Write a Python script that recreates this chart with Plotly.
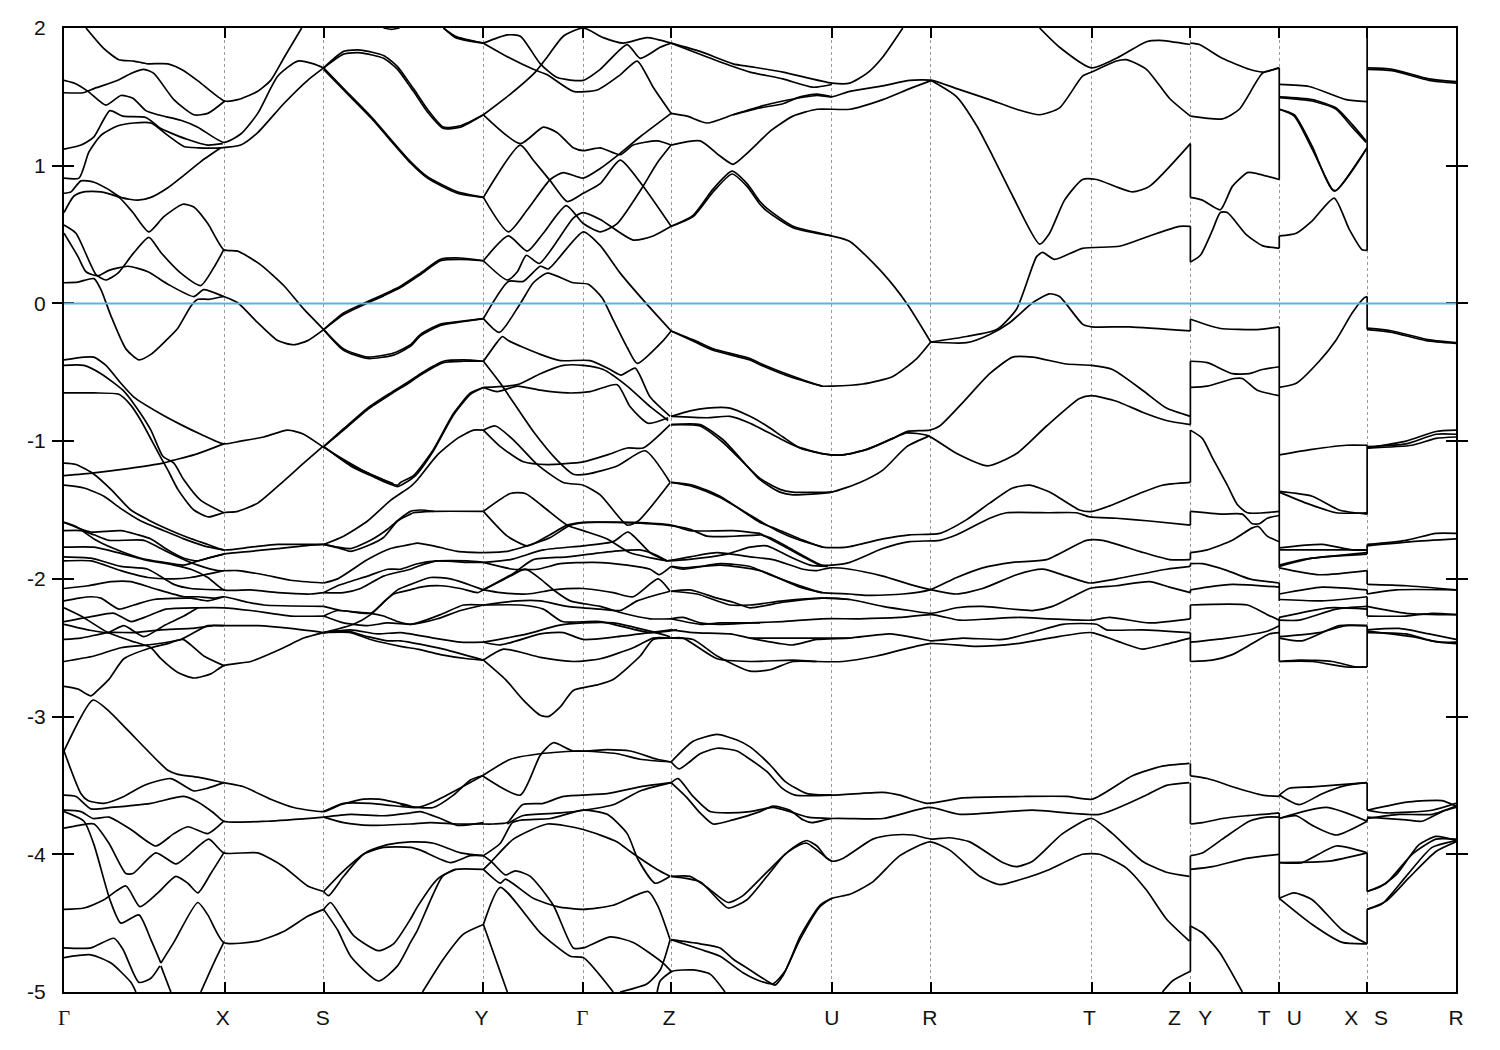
import plotly.graph_objects as go

# High-symmetry positions along the k path and energy ticks
sym_k = [0, 161, 260, 420, 520, 608, 769, 868, 1029, 1128, 1217, 1305, 1394]
label_k = [0, 159, 259, 418, 519, 606, 769, 867, 1027, 1112, 1143, 1202, 1232, 1289, 1319, 1394]
label_text = ["Γ", "X", "S", "Y", "Γ", "Z", "U", "R", "T", "Z", "Y", "T", "U", "X", "S", "R"]
energy_ticks = [2, 1, 0, -1, -2, -3, -4, -5]

# Each band: k, E, k, E, ...
bands_g_x_s = [
 [22,2.0,40,1.85,55,1.77,70,1.76,84,1.74,104,1.74,120,1.69,137,1.60,161,1.47,174,1.48,194,1.54,207,1.62,220,1.78,238,2.0],
 [0,1.62,10,1.60,24,1.54,42,1.44,57,1.51,69,1.49,82,1.40,94,1.37,117,1.33,134,1.28,160,1.17,177,1.23,194,1.38,214,1.65,234,1.76,250,1.74,260,1.71],
 [0,1.53,19,1.53,30,1.56,54,1.62,67,1.67,80,1.70,90,1.67,110,1.48,130,1.37,144,1.38,161,1.47],
 [0,1.12,17,1.15,30,1.21,46,1.40,59,1.36,82,1.35,97,1.27,124,1.19,144,1.15,159,1.16],
 [0,0.91,15,0.91,25,1.10,37,1.22,54,1.29,70,1.31,87,1.31,104,1.22,120,1.14,134,1.13,157,1.13,177,1.15,194,1.24,220,1.45,244,1.62,260,1.71],
 [0,0.80,7,0.81,17,0.89,30,0.88,44,0.83,57,0.77,74,0.75,87,0.77,104,0.84,120,0.93,137,1.03,157,1.13],
 [0,0.66,10,0.78,20,0.81,37,0.81,55,0.77,69,0.66,85,0.52,100,0.63,119,0.72,130,0.70,144,0.58,160,0.39,174,0.38,197,0.28,220,0.13,240,-0.04,260,-0.19],
 [0,0.57,12,0.51,32,0.21,42,0.17,54,0.22,69,0.36,85,0.48,97,0.37,117,0.22,137,0.13,150,0.26,160,0.39],
 [0,0.51,14,0.34,22,0.23,34,0.20,45,0.24,64,0.27,84,0.23,104,0.14,130,0.05,140,0.10,160,0.05,174,0.005,194,-0.14,214,-0.27,230,-0.30,244,-0.27,260,-0.19],
 [0,0.15,14,0.155,30,0.18,37,0.10,47,-0.09,62,-0.33,75,-0.41,87,-0.37,102,-0.27,114,-0.18,127,-0.02,134,0.03,145,0.03,160,0.05],
 [0,-0.41,20,-0.39,30,-0.39,42,-0.45,57,-0.58,70,-0.68,94,-0.79,117,-0.88,137,-0.95,160,-1.02,177,-1.0,200,-0.97,224,-0.92,240,-0.95,259,-1.04,277,-1.12,304,-1.23,330,-1.31],
 [0,-0.45,20,-0.45,37,-0.51,59,-0.63,72,-0.75,87,-0.92,99,-1.11,110,-1.16,120,-1.28,137,-1.43,160,-1.52],
 [0,-0.65,30,-0.65,55,-0.66,67,-0.74,77,-0.85,97,-1.12,104,-1.21,114,-1.35,130,-1.50,145,-1.55,160,-1.52,174,-1.51,194,-1.45,220,-1.29,240,-1.16,259,-1.04],
 [0,-1.25,30,-1.23,64,-1.20,99,-1.16,109,-1.14,130,-1.10,160,-1.02],
 [0,-1.16,12,-1.17,30,-1.24,47,-1.35,67,-1.50,84,-1.57,104,-1.64,124,-1.70,144,-1.75,160,-1.79,187,-1.77,214,-1.75,240,-1.75,260,-1.75],
 [0,-1.32,20,-1.34,40,-1.40,57,-1.49,77,-1.58,100,-1.65,120,-1.71,140,-1.76,160,-1.79],
 [0,-1.59,12,-1.62,30,-1.71,50,-1.78,77,-1.85,100,-1.88,120,-1.90,134,-1.87,160,-1.82,187,-1.80,214,-1.78,240,-1.76,260,-1.75],
 [0,-1.59,14,-1.63,27,-1.66,57,-1.65,74,-1.68,87,-1.71,104,-1.79,120,-1.85,134,-1.87,144,-1.85,160,-1.82],
 [0,-1.65,17,-1.65,30,-1.68,45,-1.72,80,-1.72,97,-1.78,117,-1.85,134,-1.90,154,-1.94,174,-1.94,200,-1.97,227,-2.01,260,-2.03],
 [0,-1.77,30,-1.77,54,-1.81,80,-1.86,110,-1.90,127,-1.93,144,-1.99,160,-2.08,187,-2.08,214,-2.10,247,-2.11,260,-2.10],
 [0,-1.84,27,-1.85,57,-1.91,84,-1.93,110,-2.04,127,-2.07,160,-2.08],
 [0,-1.87,27,-1.87,57,-1.94,84,-1.99,110,-2.0,127,-1.99,160,-1.94],
 [0,-2.07,24,-2.05,47,-2.02,67,-2.02,90,-2.07,120,-2.13,134,-2.13,150,-2.14,160,-2.13,184,-2.17,200,-2.19,260,-2.20],
 [0,-2.16,15,-2.14,27,-2.13,37,-2.14,55,-2.22,70,-2.19,90,-2.15,127,-2.14,144,-2.16,160,-2.13],
 [0,-2.21,17,-2.27,44,-2.39,67,-2.45,87,-2.50,97,-2.58,114,-2.68,130,-2.72,147,-2.69,160,-2.63,187,-2.60,217,-2.51,240,-2.43,260,-2.39],
 [0,-2.31,30,-2.27,50,-2.25,67,-2.31,84,-2.27,102,-2.22,134,-2.21,160,-2.21,187,-2.23,227,-2.27,260,-2.27],
 [0,-2.33,24,-2.37,44,-2.39,60,-2.34,80,-2.42,100,-2.34,120,-2.27,134,-2.21],
 [0,-2.44,17,-2.43,44,-2.39,70,-2.39,97,-2.37,127,-2.36,150,-2.34,160,-2.34,194,-2.34,227,-2.36,260,-2.39],
 [0,-2.60,30,-2.56,57,-2.50,84,-2.48,117,-2.44,144,-2.34,160,-2.34],
 [0,-2.78,14,-2.80,27,-2.85,35,-2.80,45,-2.73,60,-2.58,87,-2.50,104,-2.47,119,-2.44,140,-2.56,160,-2.63],
 [0,-3.25,29,-2.88,45,-2.96,64,-3.10,104,-3.39,114,-3.42,134,-3.44,160,-3.48,180,-3.51,207,-3.60,230,-3.66,260,-3.69,277,-3.64,300,-3.60,315,-3.60,330,-3.62,347,-3.65],
 [0,-3.25,17,-3.56,24,-3.61,40,-3.63,60,-3.58,80,-3.50,107,-3.45,130,-3.54,144,-3.52,160,-3.48],
 [0,-3.57,12,-3.58,27,-3.67,47,-3.66,87,-3.63,120,-3.58,134,-3.62,150,-3.70,160,-3.76,204,-3.76,260,-3.73],
 [0,-3.68,17,-3.69,29,-3.74,45,-3.73,67,-3.82,92,-3.94,110,-3.85,124,-3.80,144,-3.85,160,-3.76],
 [0,-3.81,15,-3.79,30,-3.78,45,-3.92,62,-4.14,69,-4.14,92,-3.99,112,-4.07,124,-4.01,145,-3.89,160,-3.99,194,-3.99,220,-4.09,244,-4.23,260,-4.27],
 [0,-3.69,20,-3.76,30,-3.93,46,-4.33,57,-4.50,75,-4.44,87,-4.62,97,-4.79],
 [97,-4.81,107,-5.0],
 [0,-4.40,20,-4.39,40,-4.33,62,-4.23,76,-4.38,94,-4.28,112,-4.16,124,-4.21,134,-4.28,147,-4.14,160,-3.99],
 [0,-4.68,27,-4.68,50,-4.61,59,-4.69,75,-4.93,87,-4.90,96,-4.81],
 [97,-4.79,110,-4.64,134,-4.35,144,-4.44,160,-4.64,194,-4.63,220,-4.56,244,-4.45,260,-4.40],
 [0,-4.75,27,-4.73,47,-4.79,67,-4.93,72,-5.0],
 [137,-5.0,150,-4.79,160,-4.64],
]

bands_s_y = [
 [260,1.71,280,1.83,297,1.84,320,1.80,334,1.72,347,1.59,350,1.56,364,1.41,380,1.28,397,1.29,420,1.37],
 [260,1.71,280,1.81,297,1.82,320,1.78,334,1.70,347,1.57,350,1.54,364,1.39,380,1.27,397,1.28,420,1.37],
 [260,1.71,280,1.56,307,1.36,347,1.03,364,0.92,394,0.81,420,0.77],
 [260,1.70,280,1.55,307,1.35,347,1.02,364,0.91,394,0.80,420,0.77],
 [320,2.0,328,1.99,336,2.0],
 [380,2.0,392,1.94,420,1.89],
 [380,2.0,392,1.93,420,1.89],
 [260,-0.19,280,-0.07,297,-0.01,320,0.065,337,0.125,357,0.22,377,0.32,397,0.33,420,0.31],
 [260,-0.19,280,-0.08,297,-0.02,320,0.055,337,0.115,357,0.21,377,0.31,397,0.32,420,0.31],
 [260,-0.19,280,-0.33,304,-0.39,330,-0.36,347,-0.30,357,-0.225,377,-0.15,397,-0.13,420,-0.11],
 [260,-0.19,280,-0.34,304,-0.40,330,-0.375,347,-0.31,357,-0.235,377,-0.16,397,-0.135,420,-0.11],
 [260,-1.04,280,-0.91,304,-0.76,327,-0.65,347,-0.56,357,-0.51,380,-0.42,400,-0.41,420,-0.42],
 [260,-1.04,280,-0.92,304,-0.77,327,-0.66,347,-0.57,357,-0.52,380,-0.43,400,-0.42,420,-0.42],
 [260,-1.04,287,-1.17,307,-1.24,334,-1.32,337,-1.30,350,-1.25,370,-1.06,390,-0.80,407,-0.65,420,-0.61],
 [260,-1.04,287,-1.18,307,-1.25,334,-1.33,340,-1.31,352,-1.25,370,-1.07,390,-0.81,407,-0.66,420,-0.61],
 [260,-1.75,280,-1.69,304,-1.58,327,-1.43,347,-1.33,354,-1.28,374,-1.10,394,-0.98,410,-0.92,420,-0.92],
 [260,-1.75,277,-1.78,287,-1.80,304,-1.76,320,-1.70,334,-1.58,347,-1.53,350,-1.52,370,-1.51,420,-1.51],
 [260,-1.75,274,-1.77,287,-1.78,307,-1.72,324,-1.64,337,-1.56,347,-1.51,357,-1.50,370,-1.51],
 [260,-2.03,274,-2.0,304,-1.86,327,-1.78,347,-1.75,354,-1.74,370,-1.76,394,-1.80,420,-1.81],
 [260,-2.10,274,-2.05,304,-1.98,324,-1.93,337,-1.93,354,-1.89,374,-1.87,404,-1.87,420,-1.88],
 [260,-2.10,280,-2.10,297,-2.07,320,-1.98,347,-1.93,354,-1.91,374,-1.87,404,-1.88,420,-1.88],
 [260,-2.27,274,-2.23,307,-2.25,320,-2.17,330,-2.11,347,-2.08,357,-2.06,377,-2.05,397,-2.07,414,-2.10,420,-2.08],
 [260,-2.27,280,-2.32,304,-2.34,324,-2.32,347,-2.33,357,-2.32,374,-2.29,397,-2.23,420,-2.19],
 [260,-2.20,277,-2.23,307,-2.25,320,-2.27,334,-2.31,347,-2.33,354,-2.32,377,-2.26,400,-2.19,420,-2.19],
 [260,-2.39,290,-2.33,307,-2.26,320,-2.17,334,-2.08,347,-2.04,367,-1.99,387,-2.0,420,-2.08],
 [260,-2.39,287,-2.37,314,-2.40,337,-2.39,370,-2.43,397,-2.46,420,-2.46],
 [260,-2.39,287,-2.39,307,-2.44,337,-2.49,354,-2.51,377,-2.55,404,-2.58,420,-2.59],
 [260,-2.39,284,-2.38,304,-2.42,324,-2.45,337,-2.45,380,-2.51,420,-2.59],
 [337,-3.64,354,-3.66,370,-3.66,390,-3.57,407,-3.46,419,-3.43],
 [260,-3.69,280,-3.63,307,-3.63,347,-3.66,354,-3.66,370,-3.62,394,-3.53,419,-3.43],
 [260,-3.73,287,-3.71,320,-3.72,347,-3.70,357,-3.69,377,-3.74,394,-3.79,420,-3.77],
 [260,-3.73,280,-3.77,307,-3.79,347,-3.78,367,-3.77,394,-3.78,420,-3.78],
 [260,-4.27,280,-4.12,304,-3.98,324,-3.93,347,-3.91,370,-3.92,397,-3.99,420,-4.01],
 [260,-4.27,265,-4.30,280,-4.16,300,-4.0,320,-3.95,347,-3.95,357,-3.97,387,-4.06,407,-4.01,420,-4.01],
 [260,-4.40,267,-4.35,277,-4.45,290,-4.59,315,-4.70,330,-4.65,347,-4.47,354,-4.38,374,-4.18,392,-4.11,420,-4.11],
 [260,-4.40,274,-4.55,287,-4.74,315,-4.92,334,-4.81,347,-4.64,354,-4.55,379,-4.16,392,-4.11],
 [359,-5.0,380,-4.76,400,-4.58,420,-4.51],
]

bands_y_g_z = [
 [420,1.89,444,1.95,457,1.94,477,1.74,494,1.64,520,1.62,537,1.70,564,1.88,577,1.78,597,1.86,608,1.89],
 [420,1.89,447,1.78,470,1.70,484,1.66,510,1.54,534,1.55,557,1.66,574,1.76,590,1.57,608,1.38],
 [420,1.37,447,1.52,472,1.68,484,1.79,500,1.94,520,2.0,540,1.93,560,1.89,584,1.93,608,1.89],
 [420,1.37,457,1.16,480,1.28,494,1.24,510,1.13,520,1.11,537,1.13,557,1.08,570,1.15,594,1.18,608,1.15],
 [420,0.77,457,1.15,470,1.04,487,0.89,504,0.74,520,0.80,537,0.87,557,1.04,579,0.86,608,0.56],
 [420,0.77,445,0.52,464,0.68,487,0.90,500,0.95,520,0.91,537,0.98,557,1.09,577,1.21,608,1.38],
 [420,0.31,445,0.49,464,0.38,480,0.51,503,0.71,520,0.58,537,0.52,554,0.58,579,0.84,594,1.02,608,1.15],
 [420,0.31,444,0.17,454,0.23,463,0.35,476,0.29,510,0.62,520,0.66,537,0.61,570,0.46,590,0.49,608,0.56],
 [420,-0.11,445,0.16,460,0.16,477,0.27,485,0.25,520,0.52,537,0.42,557,0.22,583,0.0,608,-0.20],
 [420,-0.11,436,-0.21,457,0.0,470,0.15,484,0.22,510,0.15,525,0.14,539,0.04,550,-0.12,564,-0.32,574,-0.435,600,-0.27,608,-0.20],
 [420,-0.42,435,-0.27,439,-0.24,445,-0.27,477,-0.37,497,-0.415,527,-0.415,547,-0.48,558,-0.52,572,-0.47,587,-0.68,607,-0.82],
 [420,-0.42,437,-0.58,470,-0.93,494,-1.14,510,-1.24,524,-1.24,554,-1.18,582,-1.07,607,-1.30],
 [420,-0.61,434,-0.64,454,-0.60,477,-0.63,504,-0.65,527,-0.64,554,-0.59,567,-0.75,585,-0.87,605,-0.83],
 [420,-0.61,454,-0.59,477,-0.51,500,-0.45,520,-0.45,540,-0.48,564,-0.60,587,-0.75,605,-0.85],
 [420,-0.92,437,-1.04,460,-1.15,484,-1.17,520,-1.15,544,-1.10,564,-1.05,580,-1.05,607,-0.88],
 [420,-0.92,432,-0.89,450,-0.99,474,-1.17,500,-1.30,520,-1.32,537,-1.39,564,-1.61,575,-1.58,607,-1.30],
 [420,-1.51,447,-1.38,462,-1.38,484,-1.50,504,-1.61,520,-1.65,544,-1.71,567,-1.81,604,-1.87],
 [420,-1.51,444,-1.69,464,-1.76,484,-1.69,504,-1.61,520,-1.59,554,-1.59,604,-1.61,627,-1.64,644,-1.69,697,-1.68],
 [420,-1.81,444,-1.80,464,-1.76,487,-1.70,507,-1.61,524,-1.59,570,-1.59,608,-1.61,627,-1.65,670,-1.65,697,-1.67],
 [420,-1.88,447,-1.86,480,-1.79,520,-1.76,550,-1.73,565,-1.66,587,-1.81,604,-1.87],
 [420,-1.88,450,-1.93,474,-1.93,497,-1.89,530,-1.88,564,-1.90,587,-1.93,596,-1.97,608,-1.91],
 [420,-2.08,450,-1.96,470,-1.86,504,-1.84,550,-1.80,577,-1.79,594,-1.83,604,-1.87],
 [420,-2.08,437,-2.10,464,-2.11,490,-2.08,520,-2.07,550,-2.10,570,-2.13,595,-2.0,607,-2.09],
 [420,-2.08,447,-1.98,462,-1.93,477,-2.0,492,-2.09,507,-2.16,537,-2.2,560,-2.25,587,-2.29,608,-2.29],
 [420,-2.19,457,-2.19,480,-2.22,499,-2.31,537,-2.31,587,-2.39,614,-2.37],
 [420,-2.19,454,-2.16,477,-2.16,504,-2.20,537,-2.22,557,-2.23,574,-2.16,607,-2.09],
 [420,-2.46,437,-2.48,477,-2.40,500,-2.39,520,-2.44,554,-2.42,587,-2.39,608,-2.37],
 [420,-2.46,464,-2.40,494,-2.34,520,-2.32,550,-2.32,587,-2.38,607,-2.42],
 [420,-2.59,440,-2.51,477,-2.57,510,-2.60,537,-2.58,570,-2.50,590,-2.43,608,-2.43],
 [420,-2.59,442,-2.73,460,-2.88,477,-2.99,485,-3.0,497,-2.93,510,-2.81,534,-2.77,550,-2.73,577,-2.56,590,-2.44,608,-2.43],
 [419,-3.43,447,-3.31,477,-3.27,517,-3.25,554,-3.27,577,-3.31,608,-3.33],
 [419,-3.43,457,-3.57,477,-3.28,490,-3.19,510,-3.25,544,-3.24,567,-3.25,594,-3.31,608,-3.33],
 [419,-3.78,430,-3.78,444,-3.77,459,-3.64,480,-3.63,500,-3.58,544,-3.56,577,-3.51,608,-3.48],
 [444,-3.78,459,-3.72,497,-3.70,520,-3.68,550,-3.64,577,-3.54,608,-3.48],
 [420,-4.01,437,-3.92,449,-3.77,460,-3.75,487,-3.74,520,-3.68,544,-3.71,564,-3.85,575,-4.04,592,-4.21,607,-4.16],
 [420,-4.11,427,-4.06,450,-3.89,484,-3.78,520,-3.82,554,-3.91,567,-3.98,594,-4.11,607,-4.16],
 [420,-4.01,429,-4.06,442,-4.15,452,-4.12,467,-4.16,490,-4.37,510,-4.68,520,-4.68,547,-4.60,570,-4.64,600,-4.79,608,-4.85],
 [420,-4.11,437,-4.21,442,-4.18,470,-4.32,494,-4.38,520,-4.40,550,-4.37,585,-4.27,595,-4.38,607,-4.62],
 [420,-4.51,437,-4.24,477,-4.57,507,-4.74,520,-4.75,550,-5.0],
 [420,-4.51,444,-5.0],
 [557,-5.0,584,-4.94,597,-4.84,607,-4.62],
 [594,-5.0,597,-4.92,609,-4.85,630,-4.84,647,-4.87,662,-5.0],
]

bands_z_u_r_t_z = [
 [608,1.89,637,1.83,670,1.74,687,1.72,720,1.68,769,1.60,787,1.60,804,1.67,820,1.79,840,2.0],
 [608,1.89,644,1.79,670,1.72,687,1.68,720,1.63,750,1.57,769,1.59],
 [608,1.38,624,1.36,644,1.31,670,1.37,697,1.43,720,1.47,754,1.51,769,1.50,787,1.54,820,1.58,847,1.62,869,1.62,894,1.56,927,1.48,954,1.41,977,1.37,997,1.42,1020,1.65,1029,1.68,1054,1.76,1064,1.77,1084,1.70,1107,1.49,1128,1.36],
 [670,1.37,697,1.42,720,1.45,737,1.50,754,1.52,769,1.50],
 [977,2.0,997,1.86,1029,1.71,1054,1.78,1084,1.90,1097,1.91,1128,1.88],
 [608,1.15,637,1.18,657,1.07,670,1.01,684,1.09,697,1.18,707,1.25,730,1.36,754,1.41,787,1.41,820,1.48,847,1.56,869,1.62],
 [608,0.56,630,0.64,650,0.83,669,0.96,684,0.87,697,0.74,704,0.69,730,0.56,769,0.49,787,0.45,820,0.22,844,0.0,868,-0.28],
 [608,0.56,630,0.63,650,0.81,669,0.94,684,0.85,697,0.72,704,0.67,730,0.55,769,0.49],
 [868,1.62,894,1.50,914,1.29,930,1.07,950,0.78,977,0.43,987,0.51,1002,0.75,1020,0.90,1034,0.90,1070,0.81,1087,0.85,1128,1.16],
 [868,-0.28,904,-0.24,934,-0.19,954,-0.04,974,0.34,980,0.37,992,0.32,1020,0.40,1057,0.415,1087,0.49,1117,0.56,1128,0.56],
 [868,-0.28,904,-0.285,927,-0.225,947,-0.14,970,0.005,987,0.07,997,0.05,1020,-0.15,1029,-0.17,1067,-0.17,1128,-0.20],
 [608,-0.20,632,-0.27,650,-0.33,687,-0.40,697,-0.435,730,-0.53,759,-0.60,769,-0.60,800,-0.585,830,-0.53,854,-0.40,868,-0.28],
 [608,-0.20,632,-0.28,650,-0.34,687,-0.41,697,-0.445,730,-0.54,759,-0.60],
 [608,-0.82,627,-0.78,644,-0.76,667,-0.76,687,-0.82,704,-0.89,720,-0.97,737,-1.05,759,-1.09,780,-1.10,804,-1.06,830,-0.98,844,-0.93,867,-0.92,877,-0.89,900,-0.72,927,-0.51,950,-0.39,970,-0.39,1004,-0.44,1029,-0.45,1050,-0.48,1080,-0.63,1104,-0.76,1128,-0.82],
 [608,-0.82,644,-0.83,667,-0.82,687,-0.87,714,-0.97,734,-1.04,759,-1.09,780,-1.10,804,-1.06,830,-0.98,844,-0.94,865,-0.96,894,-1.09,925,-1.18,954,-1.09,984,-0.89,1017,-0.69,1029,-0.67,1054,-0.71,1080,-0.79,1104,-0.85,1128,-0.88],
 [608,-0.88,637,-0.88,660,-0.99,697,-1.28,717,-1.37,730,-1.39,769,-1.37,797,-1.30,820,-1.21,844,-1.04,867,-0.96],
 [608,-0.88,637,-0.89,660,-1.01,697,-1.27,717,-1.35,730,-1.37,769,-1.37],
 [608,-1.30,630,-1.32,657,-1.40,697,-1.59,714,-1.64,737,-1.71,760,-1.77,784,-1.77,820,-1.71,847,-1.68,877,-1.67,904,-1.57,927,-1.45,950,-1.34,967,-1.32,987,-1.37,1017,-1.50,1030,-1.51,1047,-1.47,1077,-1.38,1100,-1.32,1128,-1.30],
 [608,-1.30,630,-1.33,657,-1.41,697,-1.58,714,-1.65,737,-1.72,760,-1.77],
 [697,-1.68,707,-1.70,730,-1.79,759,-1.90,769,-1.90,787,-1.88,820,-1.78,847,-1.73,877,-1.72,894,-1.68,927,-1.56,944,-1.52,987,-1.52,1014,-1.52,1027,-1.55,1054,-1.56,1087,-1.58,1128,-1.61],
 [697,-1.67,720,-1.76,740,-1.84,759,-1.91],
 [604,-1.87,624,-1.86,664,-1.82,687,-1.77,704,-1.76,727,-1.84,747,-1.90,765,-1.91],
 [604,-1.87,627,-1.84,654,-1.81,687,-1.84,710,-1.86,740,-1.93,754,-1.94,767,-1.92,787,-1.93,820,-1.98,847,-2.04,869,-2.08,894,-2.11,920,-2.07,954,-1.97,980,-1.93,1004,-1.98,1027,-2.03,1054,-2.0,1104,-1.93,1128,-1.91],
 [608,-1.91,620,-1.93,657,-1.89,687,-1.91,707,-1.97,737,-2.05,759,-2.10,787,-2.11,804,-2.12,840,-2.11,867,-2.08,894,-1.99,920,-1.92,950,-1.88,984,-1.86,1024,-1.72,1040,-1.72,1077,-1.80,1107,-1.86,1128,-1.86],
 [608,-1.91,620,-1.92,657,-1.90,697,-1.94,737,-2.06,759,-2.10],
 [608,-2.09,634,-2.11,667,-2.19,687,-2.19,720,-2.16,759,-2.14,787,-2.15,820,-2.2,847,-2.23,869,-2.25,894,-2.21,920,-2.2,970,-2.23,990,-2.2,1010,-2.13,1027,-2.07,1054,-2.05,1087,-2.02,1107,-2.06,1128,-2.10],
 [608,-2.09,627,-2.08,654,-2.14,670,-2.17,687,-2.21,720,-2.17,759,-2.14,787,-2.15],
 [608,-2.29,620,-2.28,637,-2.32,657,-2.33,687,-2.32,720,-2.31,759,-2.29,797,-2.29,837,-2.28,869,-2.26,897,-2.30,927,-2.29,957,-2.28,987,-2.29,1029,-2.30,1047,-2.28,1087,-2.32,1128,-2.29],
 [608,-2.29,637,-2.33,657,-2.32,697,-2.32],
 [608,-2.37,630,-2.39,667,-2.40,687,-2.43,717,-2.47,730,-2.48,754,-2.44,787,-2.43,827,-2.40,854,-2.43,869,-2.45,900,-2.43,940,-2.44,970,-2.39,1000,-2.33,1034,-2.33,1044,-2.37,1080,-2.37,1128,-2.39],
 [687,-2.43,720,-2.43,759,-2.43,787,-2.43],
 [608,-2.43,620,-2.43,654,-2.58,687,-2.60,730,-2.59,754,-2.60,780,-2.60,814,-2.56,867,-2.47,914,-2.49,954,-2.47,987,-2.43,1029,-2.39,1054,-2.45,1080,-2.51,1100,-2.48,1128,-2.43],
 [608,-2.43,630,-2.44,654,-2.56,687,-2.67,707,-2.66,730,-2.60,754,-2.60],
 [608,-3.33,630,-3.18,654,-3.13,674,-3.17,687,-3.22,707,-3.35,722,-3.47,744,-3.56,769,-3.57,820,-3.55,837,-3.57,864,-3.63,900,-3.59,964,-3.58,1004,-3.58,1030,-3.60,1070,-3.43,1100,-3.36,1127,-3.34],
 [608,-3.33,616,-3.38,637,-3.27,654,-3.23,674,-3.25,687,-3.31,704,-3.40,719,-3.52,732,-3.57,769,-3.57],
 [608,-3.48,615,-3.45,630,-3.58,647,-3.69,665,-3.70,687,-3.69,710,-3.66,727,-3.69,745,-3.73,769,-3.74],
 [608,-3.48,624,-3.59,637,-3.70,650,-3.78,670,-3.75,697,-3.69,710,-3.65,727,-3.68,740,-3.75,749,-3.77,769,-3.74,820,-3.74,867,-3.66,897,-3.71,970,-3.68,1037,-3.71,1084,-3.57,1104,-3.50,1127,-3.48],
 [608,-4.16,627,-4.16,644,-4.24,665,-4.35,680,-4.30,697,-4.18,722,-4.0,737,-3.92,744,-3.90,754,-3.94,764,-4.03,769,-4.05],
 [608,-4.16,637,-4.20,665,-4.39,684,-4.33,704,-4.16,722,-4.0,737,-3.93,744,-3.92,754,-3.97,769,-4.05,780,-4.03,810,-3.89,830,-3.86,850,-3.86,869,-3.89,887,-3.88,907,-3.91,940,-4.06,954,-4.09,970,-4.05,1000,-3.85,1029,-3.74,1050,-3.85,1080,-4.05,1104,-4.13,1127,-4.16],
 [608,-4.62,637,-4.65,657,-4.68,670,-4.76,687,-4.84,704,-4.92,712,-4.95,720,-4.88,737,-4.62,757,-4.38,769,-4.32,787,-4.29,810,-4.20,837,-4.01,867,-3.91,887,-3.97,917,-4.16,937,-4.22,964,-4.17,987,-4.11,1020,-4.0,1037,-4.0,1064,-4.10,1084,-4.26,1104,-4.47,1127,-4.63],
 [608,-4.62,637,-4.69,657,-4.74,680,-4.86,697,-4.92,710,-4.94,722,-4.85,737,-4.60,757,-4.37,769,-4.32],
 [1100,-5.0,1110,-4.92,1128,-4.85],
]

bands_y_t = [
 [1128,1.89,1137,1.88,1160,1.78,1187,1.70,1200,1.68,1217,1.71],
 [1128,1.36,1160,1.34,1177,1.41,1200,1.67,1212,1.70,1217,1.71],
 [1128,0.77,1140,0.75,1158,0.68,1170,0.85,1185,0.95,1190,0.95,1217,0.90],
 [1128,0.30,1138,0.35,1150,0.53,1158,0.66,1165,0.66,1184,0.50,1200,0.42,1217,0.40],
 [1128,-0.115,1157,-0.18,1195,-0.19,1217,-0.17],
 [1128,-0.42,1145,-0.43,1170,-0.51,1187,-0.51,1200,-0.48,1217,-0.46],
 [1128,-0.61,1145,-0.60,1172,-0.545,1180,-0.545,1195,-0.63,1217,-0.67],
 [1128,-0.92,1140,-0.98,1150,-1.12,1165,-1.32,1175,-1.46,1185,-1.52,1217,-1.51],
 [1128,-1.51,1160,-1.53,1180,-1.53,1190,-1.60,1197,-1.60,1205,-1.56,1217,-1.54],
 [1128,-1.81,1145,-1.79,1170,-1.72,1190,-1.63,1196,-1.62,1205,-1.69,1217,-1.73],
 [1128,-1.89,1140,-1.89,1165,-1.94,1187,-2.0,1217,-2.03],
 [1128,-2.08,1145,-2.06,1170,-2.04,1217,-2.06],
 [1128,-2.19,1185,-2.19,1205,-2.26,1217,-2.30],
 [1128,-2.46,1165,-2.43,1205,-2.38,1217,-2.34],
 [1128,-2.60,1150,-2.59,1170,-2.55,1190,-2.47,1207,-2.40,1217,-2.39],
 [1128,-3.78,1140,-3.77,1160,-3.74,1184,-3.72,1217,-3.70],
 [1128,-3.43,1145,-3.45,1175,-3.52,1200,-3.57,1217,-3.58],
 [1128,-4.01,1140,-3.99,1160,-3.89,1187,-3.76,1204,-3.73,1217,-3.73],
 [1128,-4.11,1150,-4.09,1184,-4.03,1217,-4.0],
 [1128,-4.52,1140,-4.57,1157,-4.71,1180,-5.0],
]

bands_u_x = [
 [1217,1.59,1247,1.575,1284,1.48,1305,1.465],
 [1217,1.50,1250,1.48,1274,1.42,1290,1.30,1304,1.18],
 [1217,1.495,1250,1.47,1274,1.41,1290,1.28,1304,1.17],
 [1217,1.41,1232,1.37,1250,1.14,1272,0.815,1305,1.13],
 [1217,1.41,1232,1.36,1250,1.12,1270,0.83,1274,0.82,1305,1.13],
 [1217,0.49,1234,0.51,1250,0.60,1272,0.765,1287,0.54,1300,0.39,1305,0.385],
 [1217,-0.61,1234,-0.58,1257,-0.42,1274,-0.265,1290,-0.07,1302,0.04,1305,0.05],
 [1217,-1.10,1250,-1.06,1284,-1.03,1305,-1.03],
 [1217,-1.365,1250,-1.40,1277,-1.50,1305,-1.53],
 [1217,-1.37,1244,-1.45,1274,-1.52,1305,-1.52],
 [1217,-1.775,1260,-1.75,1290,-1.79,1305,-1.79],
 [1217,-1.79,1267,-1.79,1305,-1.79],
 [1217,-1.91,1250,-1.85,1305,-1.82],
 [1217,-1.90,1240,-1.86,1305,-1.81],
 [1217,-1.92,1257,-1.97,1305,-1.94],
 [1217,-2.11,1260,-2.06,1305,-2.08],
 [1217,-2.15,1260,-2.16,1305,-2.13],
 [1217,-2.28,1267,-2.21,1305,-2.22],
 [1217,-2.30,1237,-2.30,1274,-2.22,1305,-2.20],
 [1217,-2.43,1240,-2.45,1277,-2.34,1305,-2.34],
 [1217,-2.42,1257,-2.39,1284,-2.34,1305,-2.34],
 [1217,-2.60,1237,-2.59,1270,-2.60,1294,-2.64,1305,-2.64],
 [1217,-2.60,1250,-2.60,1284,-2.64,1305,-2.64],
 [1217,-3.57,1227,-3.52,1250,-3.51,1305,-3.48],
 [1217,-3.57,1237,-3.64,1260,-3.56,1284,-3.50,1305,-3.48],
 [1217,-3.74,1264,-3.66,1305,-3.76],
 [1217,-3.74,1234,-3.72,1250,-3.79,1274,-3.86,1305,-3.76],
 [1217,-4.06,1240,-4.06,1274,-3.94,1305,-3.99],
 [1217,-4.06,1267,-4.05,1305,-3.99],
 [1217,-4.32,1232,-4.28,1250,-4.33,1280,-4.55,1305,-4.65],
 [1217,-4.32,1250,-4.51,1280,-4.64,1305,-4.65],
]

bands_s_r = [
 [1305,1.71,1330,1.70,1367,1.63,1394,1.61],
 [1305,1.70,1330,1.69,1367,1.62,1394,1.60],
 [1305,-0.18,1330,-0.20,1364,-0.26,1394,-0.285],
 [1305,-0.19,1330,-0.21,1364,-0.27,1394,-0.29],
 [1305,-1.05,1344,-1.0,1374,-0.93,1394,-0.92],
 [1305,-1.04,1344,-1.02,1374,-0.95,1394,-0.95],
 [1305,-1.05,1350,-1.03,1374,-0.98,1394,-0.97],
 [1305,-1.75,1344,-1.72,1374,-1.67,1394,-1.67],
 [1305,-1.76,1350,-1.73,1394,-1.71],
 [1305,-2.04,1344,-2.05,1394,-2.08],
 [1305,-2.11,1334,-2.08,1394,-2.08],
 [1305,-2.20,1344,-2.25,1394,-2.26],
 [1305,-2.27,1344,-2.27,1370,-2.25,1394,-2.26],
 [1305,-2.37,1337,-2.36,1367,-2.40,1394,-2.44],
 [1305,-2.39,1344,-2.40,1370,-2.45,1394,-2.47],
 [1305,-2.38,1350,-2.42,1377,-2.46,1394,-2.46],
 [1305,-3.68,1347,-3.62,1380,-3.61,1394,-3.65],
 [1305,-3.68,1324,-3.70,1370,-3.68,1394,-3.63],
 [1305,-3.73,1344,-3.75,1360,-3.76,1380,-3.69,1394,-3.66],
 [1305,-3.74,1337,-3.71,1370,-3.71,1394,-3.65],
 [1305,-4.27,1317,-4.24,1334,-4.15,1357,-3.93,1374,-3.87,1394,-3.90],
 [1305,-4.27,1324,-4.21,1350,-4.00,1374,-3.89,1394,-3.89],
 [1305,-4.40,1320,-4.36,1344,-4.16,1370,-3.95,1394,-3.90],
 [1305,-4.40,1324,-4.34,1347,-4.17,1374,-3.98,1394,-3.91],
]

# Discontinuities of the path: E top, E bottom pairs at each jump_k
jumps_z_y = [1.16,0.77, 0.56,0.30, -0.115,-0.20, -0.42,-0.88, -0.92,-1.30, -1.51,-1.61, -1.81,-1.86, -1.89,-1.91,
             -2.08,-2.10, -2.19,-2.29, -2.39,-2.60, -3.34,-3.43, -3.48,-3.78, -4.01,-4.63, -4.52,-4.85]
jumps_t_u = [1.71,0.90, 0.49,0.40, -0.17,-1.92, -2.03,-2.16, -2.28,-2.60, -3.58,-3.57, -3.70,-4.32]
jumps_x_s = [2.0,0.385, 0.05,-0.19, -1.03,-1.53, -1.75,-1.82, -1.94,-2.04, -2.08,-2.11, -2.13,-2.27, -2.34,-2.64,
             -3.48,-3.68, -3.74,-3.76, -3.99,-4.27, -4.40,-4.65]
jump_k = [1128, 1217, 1305]

fig = go.Figure()
BLACK = dict(color="#000000", width=1.7)
for group in (bands_g_x_s, bands_s_y, bands_y_g_z, bands_z_u_r_t_z, bands_y_t, bands_u_x, bands_s_r):
    for c in group:
        fig.add_trace(go.Scatter(x=c[0::2], y=c[1::2], mode="lines",
                                 line=dict(color="#000000", width=1.7, shape="spline", smoothing=0.6),
                                 hoverinfo="skip", showlegend=False))
for k, js in zip(jump_k, (jumps_z_y, jumps_t_u, jumps_x_s)):
    for top, bottom in zip(js[0::2], js[1::2]):
        fig.add_trace(go.Scatter(x=[k, k], y=[top, bottom], mode="lines", line=BLACK,
                                 hoverinfo="skip", showlegend=False))
fig.add_trace(go.Scatter(x=[sym_k[0], sym_k[-1]], y=[0, 0], mode="lines", xaxis="x2",
                         line=dict(color="#56B4E9", width=2), hoverinfo="skip", showlegend=False))

fig.update_layout(
    width=1500, height=1050, paper_bgcolor="#ffffff", plot_bgcolor="#ffffff",
    margin=dict(l=64, r=44, t=28, b=58), showlegend=False,
    font=dict(family="Liberation Sans", size=21, color="#111111"),
    xaxis=dict(range=[0, 1394], tickmode="array", tickvals=sym_k, showticklabels=False,
               ticks="inside", ticklen=10, tickwidth=1.5, tickcolor="#000000",
               showline=True, linewidth=2, linecolor="#000000", mirror="allticks",
               showgrid=True, gridcolor="#9a9a9a", griddash="dot", gridwidth=1, zeroline=False),
    xaxis2=dict(range=[0, 1394], overlaying="x", side="bottom", anchor="y", tickmode="array",
                tickvals=label_k,
                ticktext=[t if t != "Γ" else "<span style=\"font-family:'Liberation Serif'\">Γ</span>" for t in label_text],
                ticks="", ticklabelstandoff=11, showline=False, showgrid=False, zeroline=False),
    yaxis=dict(range=[-5, 2], tickmode="array", tickvals=energy_ticks, ticktext=[str(v) for v in energy_ticks],
               ticks="inside", ticklen=10, tickwidth=1.5, tickcolor="#000000", ticklabelstandoff=12,
               showline=True, linewidth=2, linecolor="#000000", mirror="allticks", layer="below traces",
               showgrid=False, zeroline=False),
)
fig.write_html("out.html", post_script="document.body.style.margin='0';", config={"displayModeBar": False})
